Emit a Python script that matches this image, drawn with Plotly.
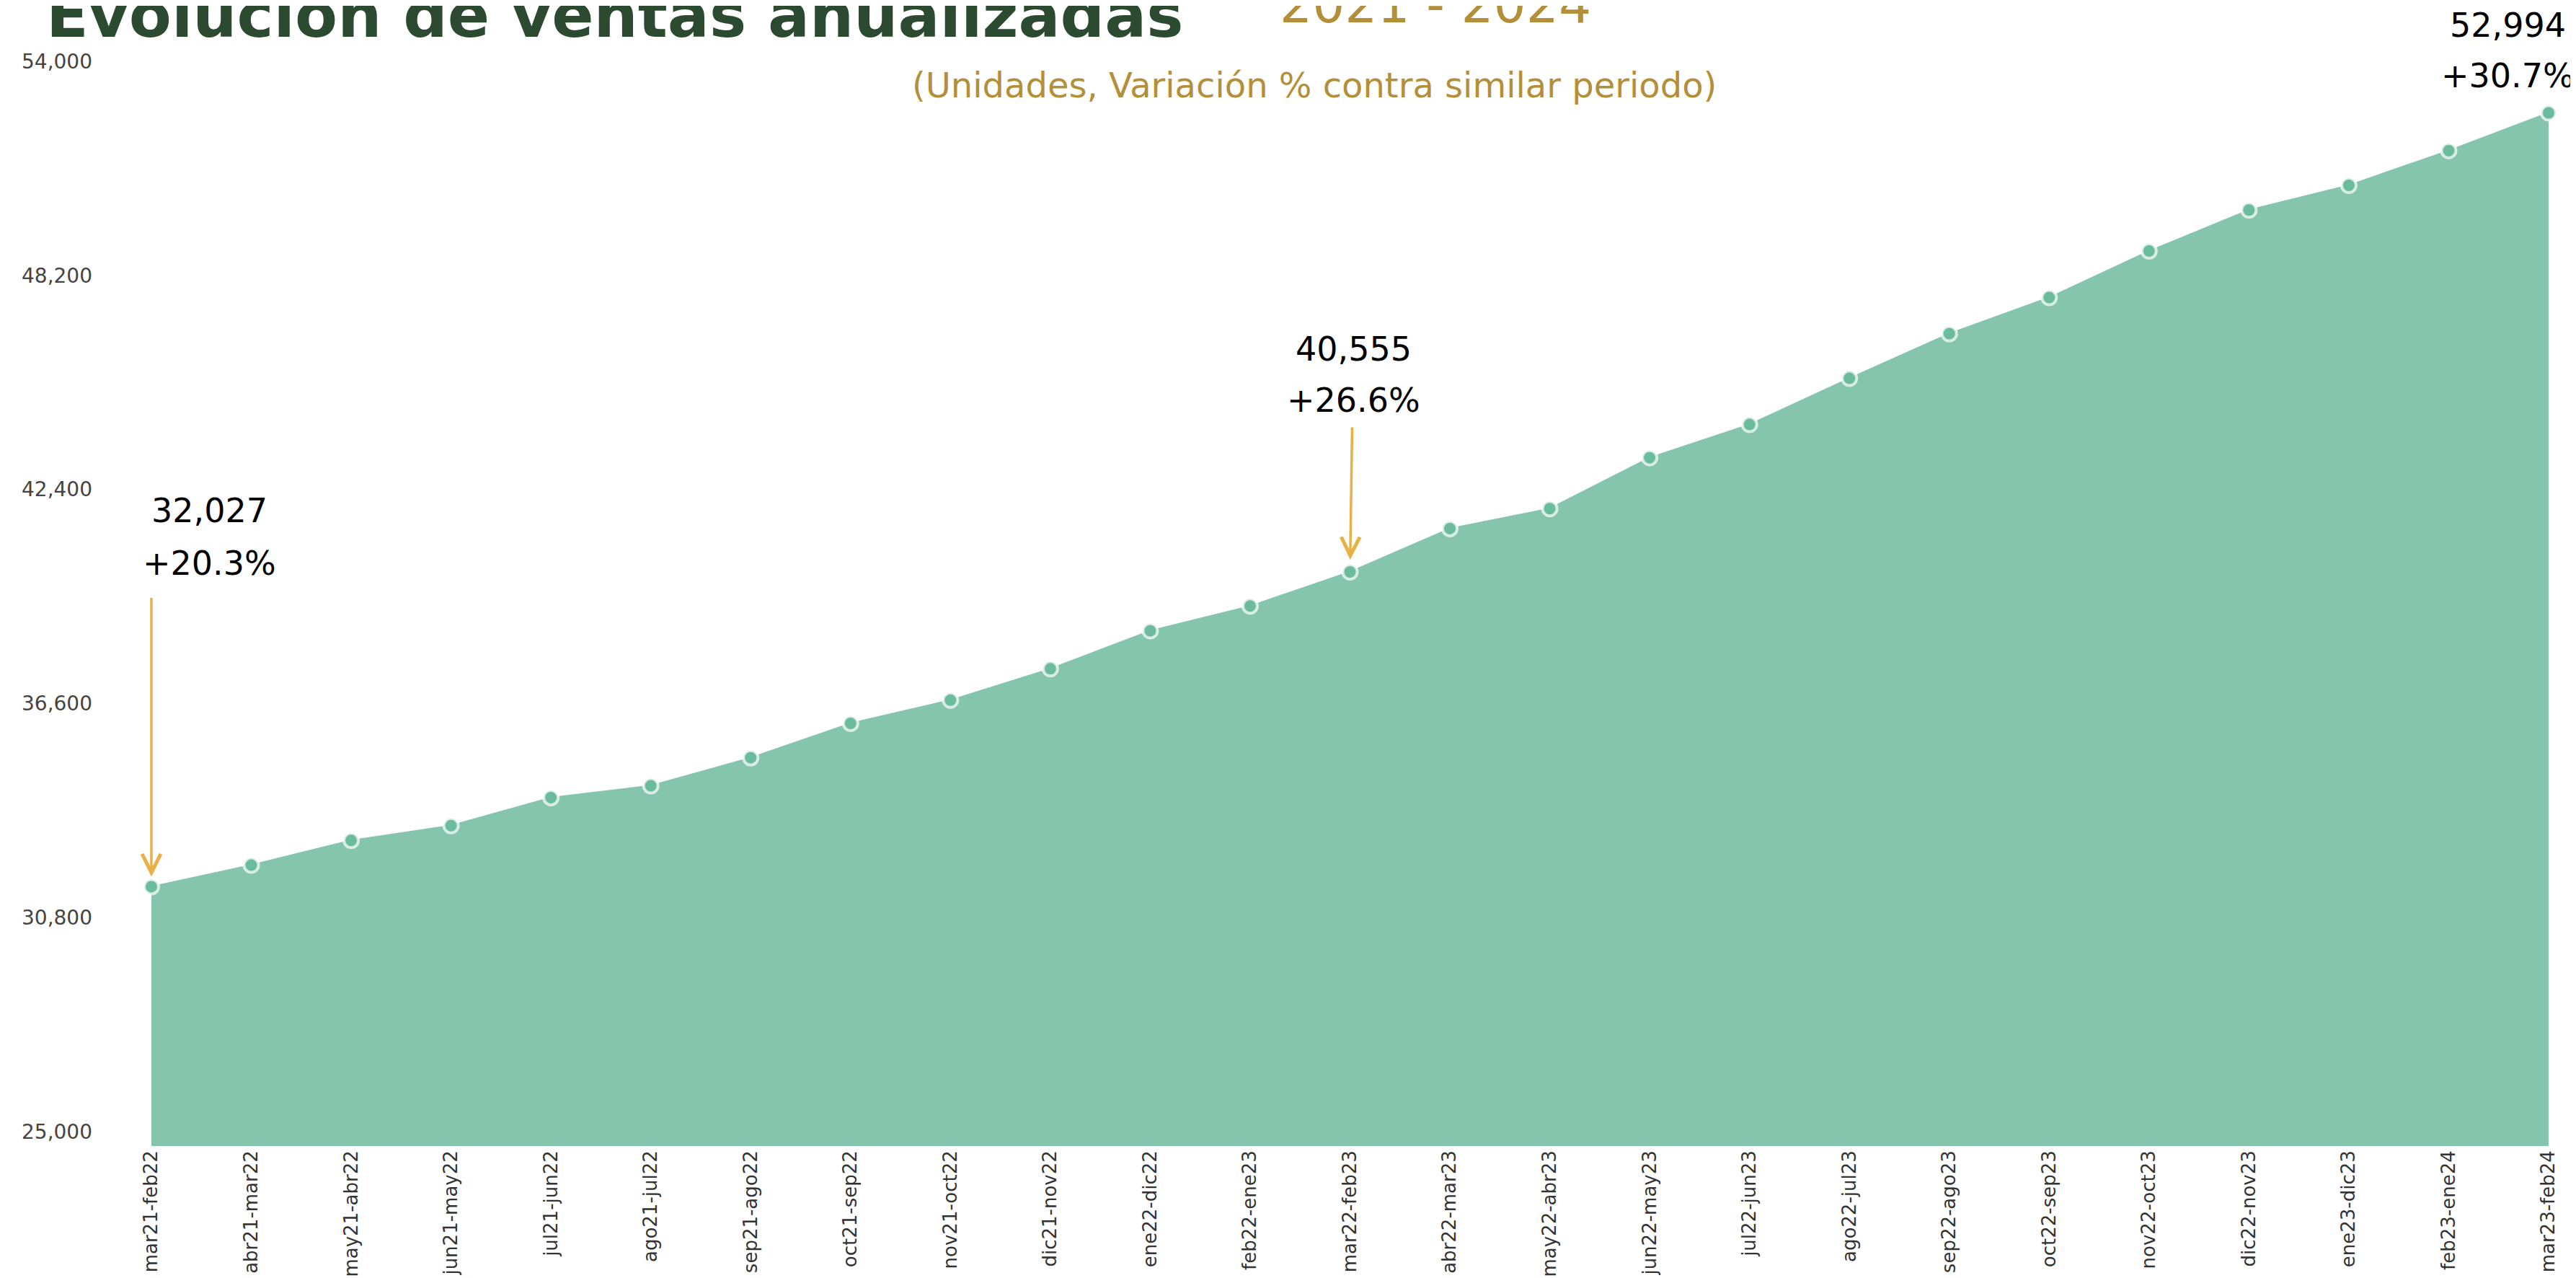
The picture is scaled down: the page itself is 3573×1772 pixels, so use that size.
import plotly.graph_objects as go

# ==============================
# Datos
# ==============================
periodos = [
    "mar21-feb22", "abr21-mar22", "may21-abr22", "jun21-may22", "jul21-jun22",
    "ago21-jul22", "sep21-ago22", "oct21-sep22", "nov21-oct22", "dic21-nov22",
    "ene22-dic22", "feb22-ene23", "mar22-feb23", "abr22-mar23", "may22-abr23",
    "jun22-may23", "jul22-jun23", "ago22-jul23", "sep22-ago23", "oct22-sep23",
    "nov22-oct23", "dic22-nov23", "ene23-dic23", "feb23-ene24", "mar23-feb24",
]
ventas = [
    32027, 32610, 33280, 33680, 34440,
    34760, 35520, 36450, 37080, 37930,
    38960, 39630, 40555, 41730, 42270,
    43650, 44550, 45800, 47010, 47990,
    49250, 50360, 51030, 51970, 52994,
]
y_ticks = [25000, 30800, 36600, 42400, 48200, 54000]

# puntos destacados: (indice, variacion)
destacados = [(0, "+20.3%"), (12, "+26.6%"), (24, "+30.7%")]

# ==============================
# Estilos
# ==============================
W, H = 3573, 1772
BODY = 8  # margen por defecto del <body>
M_L, M_R, M_T, M_B = 202, 38, 97, 183
FONT = "DejaVu Sans"
VERDE = "#86C5AD"
VERDE_OSC = "#2C4A2F"
DORADO = "#B38F3A"
NARANJA = "#E8B046"

FIG_W, FIG_H = W - BODY, H - BODY


def px_x(x):
    return (x - BODY - M_L) / (FIG_W - M_L - M_R)


def px_y(y):
    return (FIG_H - M_B - (y - BODY)) / (FIG_H - M_T - M_B)


fig = go.Figure()

fig.add_trace(go.Scatter(
    x=periodos,
    y=ventas,
    mode="lines+markers",
    fill="tozeroy",
    fillcolor=VERDE,
    line=dict(color=VERDE, width=2),
    marker=dict(size=20, color="#6BBB9D",
                line=dict(color="rgba(255,255,255,0.7)", width=4)),
    cliponaxis=False,
    hoverinfo="x+y",
))

annotations = []

# etiquetas de los puntos destacados
offsets = {0: (80, 521, 448), 12: (5, 309, 238), 24: (-57, 121, 51)}
for i, var in destacados:
    dx, dy1, dy2 = offsets[i]
    for txt, dy in [(f"{ventas[i]:,}", dy1), (var, dy2)]:
        annotations.append(dict(
            x=periodos[i], y=ventas[i], xref="x", yref="y",
            text=txt, showarrow=False, xshift=dx, yshift=dy,
            xanchor="center", yanchor="middle",
            font=dict(family=FONT, size=46, color="#000000"),
        ))

# flechas
for i, ax, ay, so in [(0, 0, -402, 14), (12, 3, -202, 17)]:
    annotations.append(dict(
        x=periodos[i], y=ventas[i], xref="x", yref="y",
        text="", showarrow=True, ax=ax, ay=ay,
        arrowhead=5, arrowsize=1.45, arrowwidth=3.5,
        arrowcolor=NARANJA, standoff=so,
    ))

# titulos
annotations += [
    dict(x=px_x(62), y=px_y(21), xref="paper", yref="paper",
         text="<b>Evolución de ventas anualizadas</b>", showarrow=False,
         xanchor="left", yanchor="middle",
         font=dict(family=FONT, size=86, color=VERDE_OSC)),
    dict(x=px_x(1773), y=px_y(6), xref="paper", yref="paper",
         text="2021 - 2024", showarrow=False,
         xanchor="left", yanchor="middle",
         font=dict(family=FONT, size=71, color=DORADO)),
    dict(x=px_x(1823), y=px_y(118), xref="paper", yref="paper",
         text="(Unidades, Variación % contra similar periodo)", showarrow=False,
         xanchor="center", yanchor="middle",
         font=dict(family=FONT, size=48, color=DORADO)),
]

fig.update_layout(
    width=FIG_W, height=FIG_H,
    margin=dict(l=M_L, r=M_R, t=M_T, b=M_B),
    paper_bgcolor="white",
    plot_bgcolor="white",
    showlegend=False,
    annotations=annotations,
    xaxis=dict(
        type="category",
        range=[0, len(periodos) - 1],
        automargin=False,
        showgrid=False, zeroline=False, showline=False,
        tickangle=-90,
        ticks="",
        tickfont=dict(family=FONT, size=26, color="#333333"),
    ),
    yaxis=dict(
        range=[25000, 54000],
        tickvals=y_ticks,
        tickformat=",",
        automargin=False,
        showgrid=False, zeroline=False, showline=False,
        ticks="",
        ticklabelstandoff=81,
        ticklabelshift=-20,
        tickfont=dict(family=FONT, size=28, color="#444444"),
    ),
)

fig.write_html("out.html")
